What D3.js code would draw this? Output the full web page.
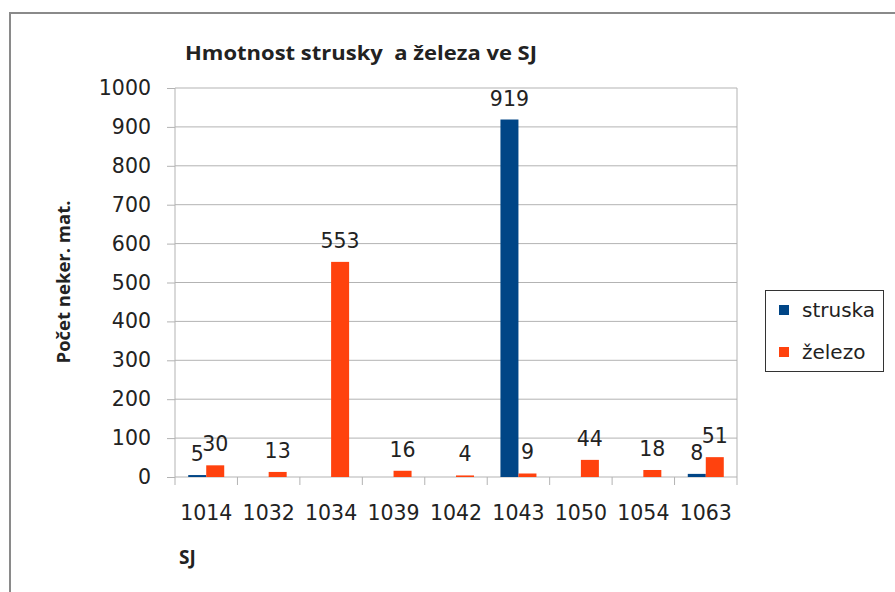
<!DOCTYPE html>
<html>
<head>
<meta charset="utf-8">
<script src="https://cdn.jsdelivr.net/npm/d3@7"></script>
<style>
  body { margin: 0; background: #fff; }
  svg text { fill: #222; }
</style>
</head>
<body>
<div id="chart"></div>
<script>
// data
var categories = ["1014", "1032", "1034", "1039", "1042", "1043", "1050", "1054", "1063"];
var struska = [5, null, null, null, null, 919, null, null, 8];
var zelezo = [30, 13, 553, 16, 4, 9, 44, 18, 51];
var seriesNames = ["struska", "železo"];
var seriesColors = ["#004586", "#ff420e"];
var yTicks = [0, 100, 200, 300, 400, 500, 600, 700, 800, 900, 1000];

var W = 895, H = 592;
var plot = {left: 175, right: 737, top: 88, bottom: 477};

var svg = d3.select("#chart")
  .append("svg")
    .attr("width", W)
    .attr("height", H)
    .style("font-family", "'DejaVu Sans', sans-serif");

// outer frame
svg.append("rect")
  .attr("x", 10).attr("y", 13)
  .attr("width", W).attr("height", H)
  .attr("fill", "none")
  .attr("stroke", "#8a8a8a")
  .attr("stroke-width", 2);

var x = d3.scaleBand()
  .domain(categories)
  .range([plot.left, plot.right]);

var xs = d3.scaleBand()
  .domain(seriesNames)
  .range([0, 36]);

var y = d3.scaleLinear()
  .domain([0, 1000])
  .range([plot.bottom, plot.top]);

// gridlines + y axis
var yAxis = svg.append("g")
  .attr("transform", "translate(" + plot.left + ",0)")
  .call(d3.axisLeft(y).tickValues(yTicks).tickFormat(d3.format("d"))
    .tickSize(8).tickPadding(16).tickSizeOuter(0));
yAxis.select(".domain").remove();
yAxis.selectAll(".tick line").attr("stroke", "#b3b3b3");
yAxis.selectAll(".tick text")
  .style("font-size", "20.5px")
  .style("font-family", "'DejaVu Sans', sans-serif")
  .attr("fill", "#222");

svg.append("g")
  .selectAll("line")
  .data(yTicks)
  .enter().append("line")
    .attr("x1", plot.left).attr("x2", plot.right)
    .attr("y1", function(d) { return y(d); })
    .attr("y2", function(d) { return y(d); })
    .attr("stroke", "#b3b3b3");

// left and right vertical lines
[plot.left, plot.right].forEach(function(px) {
  svg.append("line")
    .attr("x1", px).attr("x2", px)
    .attr("y1", plot.top).attr("y2", plot.bottom + 8)
    .attr("stroke", "#b3b3b3");
});

// x axis: ticks at category boundaries
var xAxis = svg.append("g")
  .attr("transform", "translate(0," + plot.bottom + ")")
  .call(d3.axisBottom(x).tickSize(0).tickPadding(28));
xAxis.select(".domain").remove();
xAxis.selectAll(".tick text")
  .style("font-size", "20.5px")
  .style("font-family", "'DejaVu Sans', sans-serif")
  .attr("fill", "#222");

svg.append("g")
  .selectAll("line")
  .data(categories.slice(1))
  .enter().append("line")
    .attr("x1", function(d) { return x(d); })
    .attr("x2", function(d) { return x(d); })
    .attr("y1", plot.bottom).attr("y2", plot.bottom + 8)
    .attr("stroke", "#b3b3b3");

// bars
var rows = [];
categories.forEach(function(c, i) {
  [struska[i], zelezo[i]].forEach(function(v, j) {
    if (v !== null) rows.push({cat: c, series: seriesNames[j], value: v, color: seriesColors[j]});
  });
});

function barX(d) {
  return x(d.cat) + (x.bandwidth() - 36) / 2 + xs(d.series);
}

svg.append("g")
  .selectAll("rect")
  .data(rows)
  .enter().append("rect")
    .attr("x", barX)
    .attr("y", function(d) { return y(d.value); })
    .attr("width", xs.bandwidth())
    .attr("height", function(d) { return y(0) - y(d.value); })
    .attr("fill", function(d) { return d.color; });

// value labels
svg.append("g")
  .selectAll("text")
  .data(rows)
  .enter().append("text")
    .attr("x", function(d) { return barX(d) + xs.bandwidth() / 2; })
    .attr("y", function(d) { return y(d.value) - 14; })
    .attr("text-anchor", "middle")
    .style("font-size", "20.5px")
    .text(function(d) { return d.value; });

// title
svg.append("text")
  .attr("x", 185)
  .attr("y", 60)
  .attr("textLength", 352)
  .attr("lengthAdjust", "spacingAndGlyphs")
  .style("font-family", "'Open Sans', sans-serif")
  .style("font-weight", "bold")
  .style("font-size", "19px")
  .style("white-space", "pre")
  .text("Hmotnost strusky  a železa ve SJ");

// axis titles
svg.append("text")
  .attr("transform", "translate(70,282) rotate(-90)")
  .attr("text-anchor", "middle")
  .style("font-family", "'Open Sans', sans-serif")
  .style("font-weight", "bold")
  .style("font-size", "18.5px")
  .text("Počet neker. mat.");

svg.append("text")
  .attr("x", 179)
  .attr("y", 564)
  .style("font-family", "'Open Sans', sans-serif")
  .style("font-weight", "bold")
  .style("font-size", "19px")
  .text("SJ");

// legend
var lg = svg.append("g");
lg.append("rect")
  .attr("x", 765.5).attr("y", 290.5)
  .attr("width", 118).attr("height", 81)
  .attr("fill", "#fff")
  .attr("stroke", "#333");

var items = lg.selectAll(".legend")
  .data(seriesNames)
  .enter().append("g")
    .attr("class", "legend")
    .attr("transform", function(d, i) { return "translate(779," + (310 + i * 42) + ")"; });

items.append("rect")
  .attr("x", 0).attr("y", -5)
  .attr("width", 10).attr("height", 10)
  .attr("fill", function(d, i) { return seriesColors[i]; });

items.append("text")
  .attr("x", 23)
  .attr("dy", "0.35em")
  .style("font-size", "20px")
  .text(function(d) { return d; });
</script>
</body>
</html>
